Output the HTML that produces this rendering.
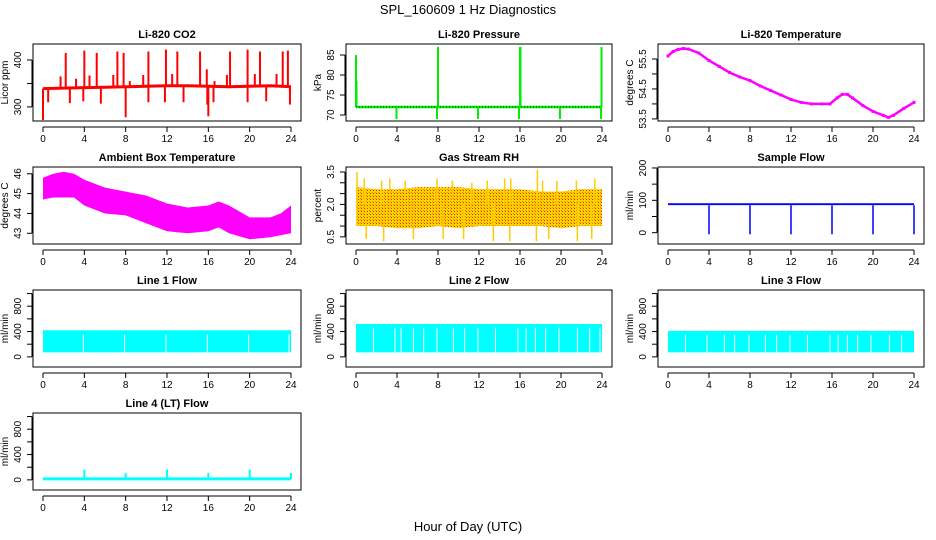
<!DOCTYPE html>
<html><head><meta charset="utf-8"><style>
html,body{margin:0;padding:0;background:#fff;}
svg{display:block;font-family:"Liberation Sans",Arial,sans-serif;}
</style></head><body>
<svg id="chart" width="936" height="540" viewBox="0 0 936 540">
<defs>
<pattern id="rhpat" width="3" height="3" patternUnits="userSpaceOnUse">
<rect width="3" height="3" fill="#ffd700"/><rect x="1" y="1" width="1" height="1" fill="#ff2000"/><rect x="0" y="0" width="1" height="1" fill="#ff8000"/>
</pattern>
</defs>
<text x="468" y="14" text-anchor="middle" font-size="13">SPL_160609  1 Hz Diagnostics</text>
<text x="468" y="531" text-anchor="middle" font-size="13">Hour of Day (UTC)</text>
</svg>
<script>
// ---------- data ----------
const xTicks = [0,4,8,12,16,20,24];
// CO2
const co2BaseHours = [0,2,4,6,8,10,12,14,16,18,20,22,24];
const co2BaseVals = [339,340,341,342,343,344,345,345,344,343,344,345,343];
const co2SpikeHours = [2.2,4.0,5.2,7.2,7.8,10.2,11.9,13.0,15.2,15.85,18.1,19.8,21.0,23.2,23.7,0.0,0.5,2.6,3.9,5.6,8.0,10.2,11.8,13.6,15.9,16.0,16.5,19.8,21.6,23.9,1.7,3.2,4.5,6.8,8.4,9.7,12.5,16.6,17.8,20.5,22.6];
const co2SpikeVals = [415,420,415,418,415,418,422,418,418,380,418,422,418,418,420,272,310,308,312,307,278,310,310,310,305,280,310,310,312,305,365,360,367,368,355,368,370,355,368,370,370];
// Pressure
const presBase = 72;
const presSpikeHours = [0.0,0.05,8.0,16.0,16.05,23.95,3.95,7.9,11.9,15.9,19.9,23.9];
const presSpikeVals = [85,78.5,87,87,87,87,69,69,69,69,69,69];
// Li-820 temperature
const tempHours = [0,0.5,1,1.5,2,3,4,5,6,7,8,9,10,11,12,13,14,15,15.8,16.5,17,17.5,18,19,20,21,21.5,22,23,24];
const tempVals = [55.6,55.75,55.82,55.85,55.83,55.7,55.45,55.25,55.05,54.9,54.78,54.6,54.45,54.3,54.15,54.05,54.0,54.0,54.0,54.2,54.32,54.32,54.2,53.95,53.75,53.62,53.55,53.62,53.85,54.05];
// Sample flow
const sfUpper = 91, sfLower = 85;
const sfDropHours = [4,8,12,16,20,24];
const sfDropVals = [-5,-5,-5,-5,-5,-5];
// Ambient box temperature
const ambHours = [0,1,2,3,4,6,8,10,12,14,16,17,18,20,22,23,24];
const ambUpper = [45.8,46.0,46.1,46.0,45.7,45.3,45.1,44.9,44.5,44.3,44.4,44.6,44.4,43.8,43.8,44.0,44.4];
const ambLower = [44.7,44.8,44.8,44.8,44.4,44.0,43.9,43.5,43.1,43.0,43.1,43.3,43.0,42.7,42.8,42.9,43.0];
// Gas stream RH
const rhHours = [0,2,4,6,8,10,12,14,16,18,20,22,24];
const rhUpper = [2.8,2.7,2.7,2.8,2.8,2.8,2.7,2.7,2.7,2.6,2.6,2.7,2.7];
const rhLower = [1.0,1.0,0.9,0.9,1.0,0.9,1.0,1.0,1.0,1.0,0.9,1.0,1.0];
const rhSpikeHours = [0.1,0.8,2.5,3.3,4.8,7.9,9.4,11.3,12.8,14.5,15.1,17.7,18.2,19.6,21.5,23.3,1.0,2.7,5.6,8.5,10.5,13.4,15.0,17.6,18.8,21.6,23.0];
const rhSpikeVals = [3.5,3.2,3.1,3.2,3.1,3.2,3.1,3.0,3.1,3.2,3.2,3.6,3.1,3.1,3.1,3.2,0.4,0.3,0.4,0.4,0.4,0.3,0.3,0.3,0.4,0.3,0.4];
// Line flows
const flowHours = [0,24];
const l1Upper = 420, l1Lower = 70;
const l1Gaps = [3.9,7.9,11.9,15.9,19.9,23.8];
const l2Upper = 520, l2Lower = 70;
const l2Gaps = [1.7,3.8,4.4,5.6,6.6,7.9,9.5,10.6,11.9,13.6,15.8,16.6,17.5,18.5,19.8,21.6,22.8,23.8];
const l3Upper = 410, l3Lower = 70;
const l3Gaps = [1.7,3.8,5.5,6.5,7.9,9.5,10.6,11.9,13.6,15.8,16.6,17.5,18.5,19.8,21.6,22.8];
const l4Base = 15;
const l4SpikeHours = [4,8,12,16,20,24];
const l4SpikeVals = [160,110,160,110,160,110];

// ---------- drawing ----------
const svg = document.getElementById('chart');
const NS = 'http://www.w3.org/2000/svg';
function mk(tag, attrs, parent){const e=document.createElementNS(NS,tag);for(const k in attrs)e.setAttribute(k,attrs[k]);(parent||svg).appendChild(e);return e;}
const cols = [[33,301],[346,612],[658,924]];
const rows = [[44,121],[167,244],[290,367],[413,490]];

function panel(name, col, row, title, ylab, yMin, yMax, yTicks, yLabels, dec){
  const g = mk('g',{});
  
  
  const [x0,x1]=cols[col],[y0,y1]=rows[row];
  const xs = h => x0+10+(h/24)*(x1-x0-20);
  const ys = v => y1-(v-yMin)/(yMax-yMin)*(y1-y0);
  const box = mk('rect',{x:x0,y:y0,width:x1-x0,height:y1-y0,fill:'none',stroke:'#000','stroke-width':1},g);
  
  
  const t = mk('text',{x:(x0+x1)/2,y:y0-6,'text-anchor':'middle','font-size':11,'font-weight':'bold'},g);
  t.textContent = title;
  
  
  const ax = mk('g',{},g);
  
  
  const ay0 = y1+6;
  mk('line',{x1:xs(0),x2:xs(24),y1:ay0,y2:ay0,stroke:'#000'},ax);
  xTicks.forEach(h=>{
    mk('line',{x1:xs(h),x2:xs(h),y1:ay0,y2:ay0+5,stroke:'#000'},ax);
    const tl = mk('text',{x:xs(h),y:y1+21,'text-anchor':'middle','font-size':10},ax);
    tl.textContent = h;
  });
  const yax = mk('g',{},g);
  
  
  const axX = x0-1;
  mk('line',{x1:axX,x2:axX,y1:ys(yTicks[0]),y2:ys(yTicks[yTicks.length-1]),stroke:'#000'},yax);
  yTicks.forEach(v=>{mk('line',{x1:axX,x2:axX-5,y1:ys(v),y2:ys(v),stroke:'#000'},yax);});
  yLabels.forEach(v=>{
    const yy=ys(v);
    const tl = mk('text',{x:x0-12,y:yy,'text-anchor':'middle','font-size':10,transform:`rotate(-90 ${x0-12} ${yy})`},yax);
    tl.textContent = dec ? v.toFixed(dec) : v;
  });
  const yl = mk('text',{x:x0-25,y:(y0+y1)/2,'text-anchor':'middle','font-size':10,transform:`rotate(-90 ${x0-25} ${(y0+y1)/2})`},g);
  yl.textContent = ylab;
  
  
  const data = mk('g',{},g);
  
  
  return {xs,ys,g:data};
}
function band(p, hours, up, lo, fill){
  let d='M'+hours.map((h,i)=>p.xs(h)+','+p.ys(up[i])).join(' L');
  for(let i=hours.length-1;i>=0;i--) d+=' L'+p.xs(hours[i])+','+p.ys(lo[i]);
  const e = mk('path',{d:d+'Z',fill:fill,stroke:'none'},p.g);
  
  
}
function spikes(p, hs, vs, base, color, w){
  hs.forEach((h,i)=>{
    const e = mk('line',{x1:p.xs(h),x2:p.xs(h),y1:p.ys(base),y2:p.ys(vs[i]),stroke:color,'stroke-width':w},p.g);
    
    
  });
}
function poly(p, hs, vs, color, w){
  const e = mk('polyline',{points:hs.map((h,i)=>p.xs(h)+','+p.ys(vs[i])).join(' '),fill:'none',stroke:color,'stroke-width':w},p.g);
  
  
}

let p = panel('co2',0,0,'Li-820 CO2','Licor ppm',270,434,[300,350,400],[300,400]);
poly(p, co2BaseHours, co2BaseVals, '#ff0000', 3);
co2SpikeHours.forEach((h,i)=>{
  const bi = Math.min(co2BaseVals.length-1, Math.round(h/2));
  spikes(p,[h],[co2SpikeVals[i]],co2BaseVals[bi],'#ff0000',2);
});
p = panel('pressure',1,0,'Li-820 Pressure','kPa',68.5,87.75,[70,75,80,85],[70,75,80,85]);
poly(p,[0,24],[presBase,presBase],'#00ee00',2.5);
spikes(p,presSpikeHours,presSpikeVals,presBase,'#00ee00',2);
poly(p,[0,24],[presBase,presBase],'#000',0.8);
p.g.lastChild.setAttribute('stroke-dasharray','1,2');
p = panel('li820-temperature',2,0,'Li-820 Temperature','degrees C',53.43,56.0,[53.5,54,54.5,55,55.5],[53.5,54.5,55.5],1);
poly(p,tempHours,tempVals,'#ff00ff',2.5);
tempHours.forEach((h,i)=>{const r=mk('rect',{x:p.xs(h)-1.5,y:p.ys(tempVals[i])-1.5,width:3,height:3,fill:'#ff00ff'},p.g);

});
p = panel('ambient-temperature',0,1,'Ambient Box Temperature','degrees C',42.46,46.34,[43,44,45,46],[43,44,45,46]);
band(p,ambHours,ambUpper,ambLower,'#ff00ff');
p = panel('gas-rh',1,1,'Gas Stream RH','percent',0.17,3.73,[0.5,1,1.5,2,2.5,3,3.5],[0.5,2.0,3.5],1);
band(p,rhHours,rhUpper,rhLower,'url(#rhpat)');
spikes(p,rhSpikeHours,rhSpikeVals,2,'#ffcc00',1.5);
p = panel('sample-flow',2,1,'Sample Flow','ml/min',-35,203,[0,50,100,150,200],[0,100,200]);
band(p,flowHours,[sfUpper,sfUpper],[sfLower,sfLower],'#0000ff');
spikes(p,sfDropHours,sfDropVals,sfLower,'#0000ff',1.5);
const fT=[0,200,400,600,800,1000], fL=[0,400,800];
function flowPanel(name,col,row,title,up,lo,gaps){
  const q = panel(name,col,row,title,'ml/min',-160,1056,fT,fL);
  band(q,flowHours,[up,up],[lo,lo],'#00ffff');
  gaps.forEach(h=>{const e=mk('line',{x1:q.xs(h),x2:q.xs(h),y1:q.ys(up-60),y2:q.ys(lo),stroke:'#fff','stroke-width':1},q.g);
  
  });
  return q;
}
flowPanel('line1-flow',0,2,'Line 1 Flow',l1Upper,l1Lower,l1Gaps);
flowPanel('line2-flow',1,2,'Line 2 Flow',l2Upper,l2Lower,l2Gaps);
flowPanel('line3-flow',2,2,'Line 3 Flow',l3Upper,l3Lower,l3Gaps);
p = panel('line4-flow',0,3,'Line 4 (LT) Flow','ml/min',-160,1056,fT,fL);
poly(p,[0,24],[l4Base,l4Base],'#00ffff',3);
spikes(p,l4SpikeHours,l4SpikeVals,l4Base,'#00ffff',2);
</script>
</body></html>
